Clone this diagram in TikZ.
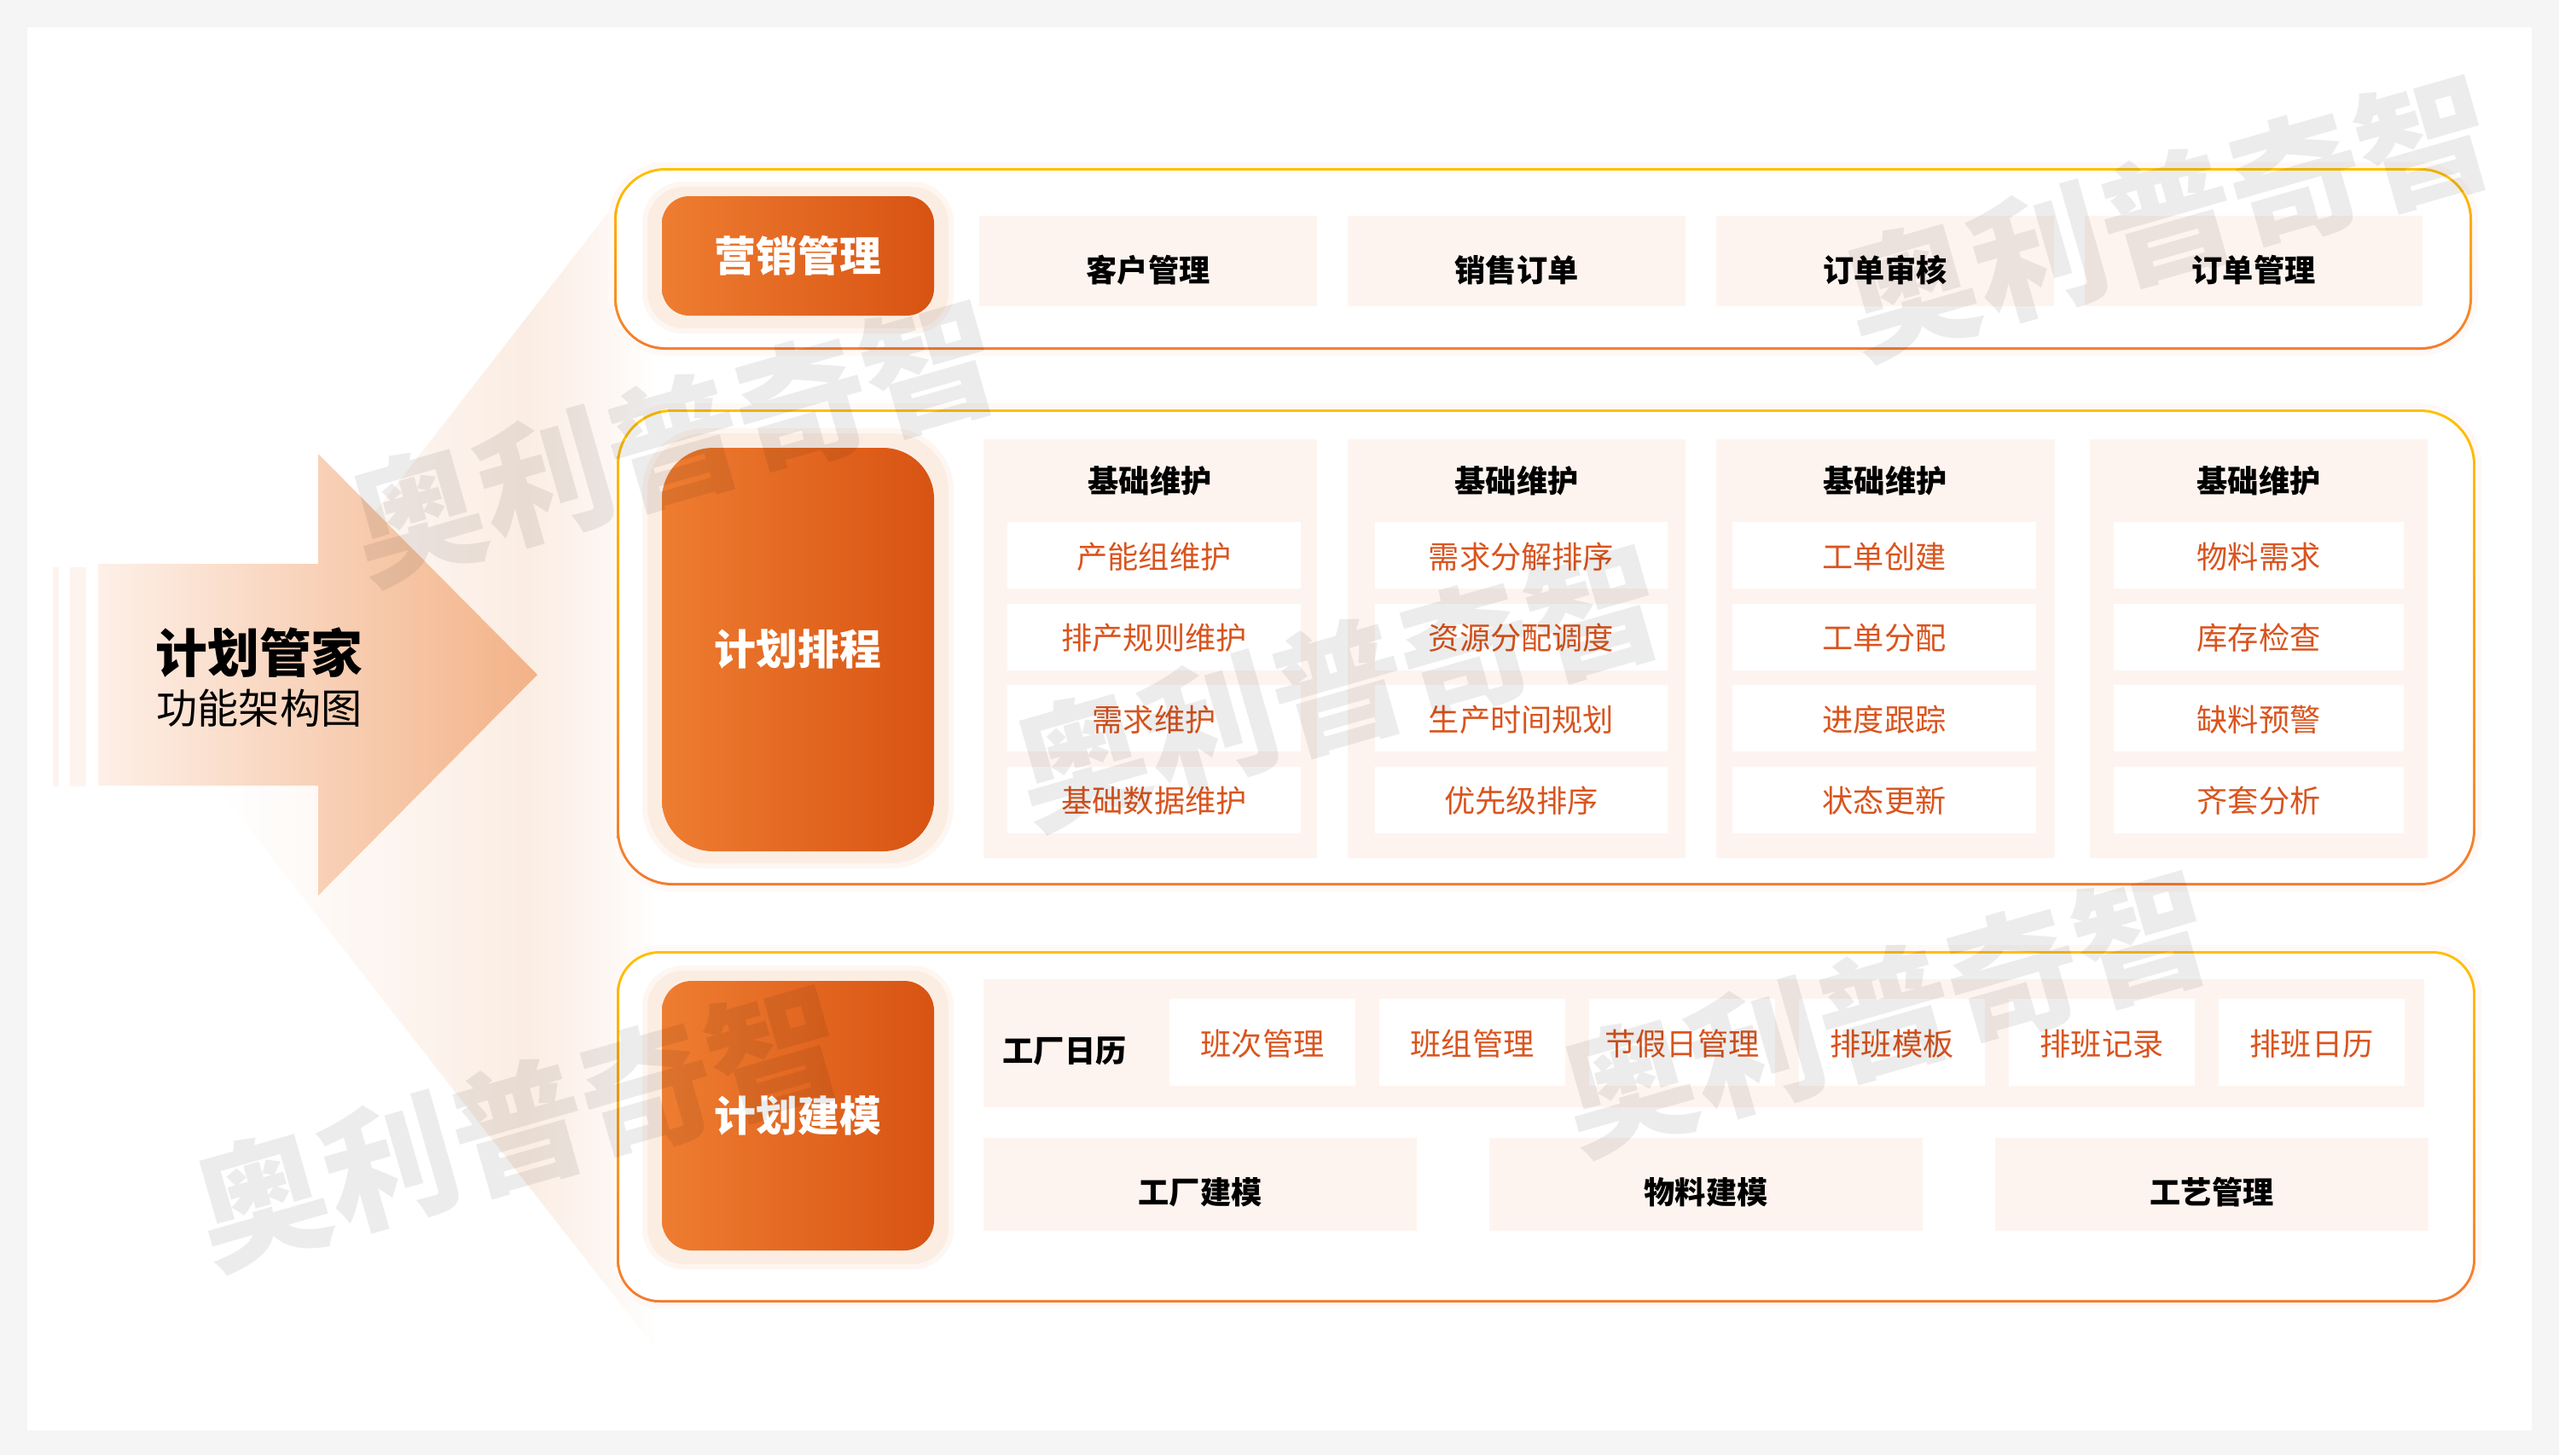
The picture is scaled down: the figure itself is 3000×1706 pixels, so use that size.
\documentclass[tikz,border=0pt]{standalone}
\usepackage{fontspec}
\setmainfont{Noto Sans CJK SC}
\usetikzlibrary{positioning}
\usetikzlibrary{shadings}

\definecolor{pagegray}{HTML}{F5F5F5}
\definecolor{cellpink}{HTML}{FEF4EF}
\definecolor{txtorange}{HTML}{D9541E}
\definecolor{fanpeach}{HTML}{FBEDE3}
\definecolor{fanlight}{HTML}{FDF5F0}
\definecolor{fanpale}{HTML}{FEFAF7}
\definecolor{glowpale}{HTML}{FEF9F6}
\definecolor{halolight}{HTML}{FCEDE3}
\definecolor{halopale}{HTML}{FEF6F1}
\definecolor{btnleft}{HTML}{EE7D31}
\definecolor{btnright}{HTML}{D85312}
\definecolor{rimtop}{HTML}{FFC000}
\definecolor{rimbottom}{HTML}{F47B30}
\definecolor{arrowleft}{HTML}{FDF0E8}
\definecolor{arrowright}{HTML}{F3B287}
\pgfdeclarehorizontalshading{fanfade}{100bp}{color(0bp)=(white); color(25bp)=(white); color(35bp)=(fanpale); color(45bp)=(fanlight); color(60bp)=(fanpeach); color(68bp)=(fanlight); color(75bp)=(white); color(100bp)=(white)}

\begin{document}
\begin{tikzpicture}[x=.1mm,y=-.1mm,
    every node/.style={outer sep=0pt, inner sep=0pt},
    rim/.style={top color=rimtop, bottom color=rimbottom, anchor=north west, preaction={draw=glowpale, line width=1.4mm}},
    panel/.style={fill=white, anchor=north west},
    halo/.style={fill=halolight, draw=halopale, line width=.6mm, anchor=north west},
    btn/.style={left color=btnleft, right color=btnright, anchor=north west, text=white, font=\fontsize{13.9}{16}\selectfont\bfseries, minimum width=31.9mm},
    cell/.style={fill=cellpink, anchor=north west, font=\fontsize{10.3}{12}\selectfont\bfseries, text height=4.9mm, text depth=0mm},
    col/.style={fill=cellpink, anchor=north west, minimum height=49.1mm},
    sub/.style={fill=white, text=txtorange, anchor=north west, font=\fontsize{10.3}{12}\selectfont, minimum height=7.8mm, text height=3mm, text depth=0mm},
    hd/.style={font=\fontsize{10.3}{12}\selectfont\bfseries, text height=3mm, text depth=0mm},
    wm/.style={font=\fontsize{44.5}{50}\selectfont\bfseries, text=black, text opacity=.075, rotate=16}]

    % page
    \fill[pagegray] (0,0) rectangle (3000,1706);
    \fill[white] (32,32) rectangle (2968,1677);

    % fan behind the arrow
    \shade[shading=fanfade] (440,600) -- (770,176) -- (770,1583) -- (253,921) -- cycle;

    % big arrow
    \fill[cellpink] (62,665) rectangle (69,922);
    \fill[cellpink] (82,665) rectangle (101,922);
    \shade[left color=arrowleft, right color=arrowright] (115,661) -- (373,661) -- (373,532) -- (630,791) -- (373,1050) -- (373,921) -- (115,921) -- cycle;
    \node[font=\fontsize{17.3}{20}\selectfont\bfseries] (title) at (304,765) {计划管家};
    \node[font=\fontsize{13.7}{16}\selectfont] (subtitle) at (304,830) {功能架构图};

    % top panel
    \node[rim, rounded corners=6mm, minimum width=217.8mm, minimum height=21.3mm] (saleRim) at (720,197) {};
    \node[panel, rounded corners=5.7mm, minimum width=217.2mm, minimum height=20.7mm] (salePanel) at (723,200) {};
    \node[halo, rounded corners=4.5mm, minimum width=35.9mm, minimum height=17.2mm] (saleHalo) at (756,216) {};
    \node[btn, rounded corners=3.2mm, minimum height=14mm] (saleBtn) at (776,230) {营销管理};
    \node[cell, minimum width=39.6mm, minimum height=10.6mm] (cust) at (1148,253) {客户管理};
    \node[cell, minimum width=39.6mm, minimum height=10.6mm] (order) [right=3.6mm of cust] {销售订单};
    \node[cell, minimum width=39.6mm, minimum height=10.6mm] (audit) [right=3.6mm of order] {订单审核};
    \node[cell, minimum width=39.6mm, minimum height=10.6mm] (ordman) [right=3.6mm of audit] {订单管理};

    % middle panel
    \node[rim, rounded corners=6.5mm, minimum width=217.9mm, minimum height=55.8mm] (planRim) at (723,480) {};
    \node[panel, rounded corners=6.2mm, minimum width=217.3mm, minimum height=55.2mm] (planPanel) at (726,483) {};
    \node[halo, rounded corners=7mm, minimum width=35.9mm, minimum height=51mm] (planHalo) at (756,505) {};
    \node[btn, rounded corners=6mm, minimum height=47.3mm] (planBtn) at (776,525) {计划排程};

    \node[col, minimum width=39.1mm] (colA) at (1153,515) {};
    \node[col, minimum width=39.6mm] (colB) at (1580,515) {};
    \node[col, minimum width=39.7mm] (colC) at (2012,515) {};
    \node[col, minimum width=39.6mm] (colD) at (2450,515) {};

    \node[hd] (hdA) at (1348,562) {基础维护};
    \node[sub, minimum width=34.4mm] (a1) at (1181,612) {产能组维护};
    \node[sub, minimum width=34.4mm] (a2) [below=1.75mm of a1] {排产规则维护};
    \node[sub, minimum width=34.4mm] (a3) [below=1.75mm of a2] {需求维护};
    \node[sub, minimum width=34.4mm] (a4) [below=1.75mm of a3] {基础数据维护};

    \node[hd] (hdB) at (1778,562) {基础维护};
    \node[sub, minimum width=34.3mm] (b1) at (1612,612) {需求分解排序};
    \node[sub, minimum width=34.3mm] (b2) [below=1.75mm of b1] {资源分配调度};
    \node[sub, minimum width=34.3mm] (b3) [below=1.75mm of b2] {生产时间规划};
    \node[sub, minimum width=34.3mm] (b4) [below=1.75mm of b3] {优先级排序};

    \node[hd] (hdC) at (2210,562) {基础维护};
    \node[sub, minimum width=35.6mm] (c1) at (2031,612) {工单创建};
    \node[sub, minimum width=35.6mm] (c2) [below=1.75mm of c1] {工单分配};
    \node[sub, minimum width=35.6mm] (c3) [below=1.75mm of c2] {进度跟踪};
    \node[sub, minimum width=35.6mm] (c4) [below=1.75mm of c3] {状态更新};

    \node[hd] (hdD) at (2648,562) {基础维护};
    \node[sub, minimum width=34mm] (d1) at (2478,612) {物料需求};
    \node[sub, minimum width=34mm] (d2) [below=1.75mm of d1] {库存检查};
    \node[sub, minimum width=34mm] (d3) [below=1.75mm of d2] {缺料预警};
    \node[sub, minimum width=34mm] (d4) [below=1.75mm of d3] {齐套分析};

    % bottom panel
    \node[rim, rounded corners=5mm, minimum width=217.9mm, minimum height=41.2mm] (modelRim) at (723,1115) {};
    \node[panel, rounded corners=4.7mm, minimum width=217.3mm, minimum height=40.6mm] (modelPanel) at (726,1118) {};
    \node[halo, rounded corners=4.5mm, minimum width=35.9mm, minimum height=35mm] (modelHalo) at (756,1135) {};
    \node[btn, rounded corners=3.5mm, minimum height=31.6mm] (modelBtn) at (776,1150) {计划建模};

    \node[fill=cellpink, anchor=north west, minimum width=168.9mm, minimum height=15mm] (calBand) at (1153,1148) {};
    \node[hd] (calHd) at (1248,1230) {工厂日历};
    \node[sub, minimum width=21.8mm, minimum height=10.2mm] (cal1) at (1371,1171) {班次管理};
    \node[sub, minimum width=21.8mm, minimum height=10.2mm] (cal2) [right=2.8mm of cal1] {班组管理};
    \node[sub, minimum width=21.8mm, minimum height=10.2mm] (cal3) [right=2.8mm of cal2] {节假日管理};
    \node[sub, minimum width=21.8mm, minimum height=10.2mm] (cal4) [right=2.8mm of cal3] {排班模板};
    \node[sub, minimum width=21.8mm, minimum height=10.2mm] (cal5) [right=2.8mm of cal4] {排班记录};
    \node[sub, minimum width=21.8mm, minimum height=10.2mm] (cal6) [right=2.8mm of cal5] {排班日历};

    \node[cell, minimum width=50.8mm, minimum height=10.9mm, text height=4.6mm] (factory) at (1153,1334) {工厂建模};
    \node[cell, minimum width=50.8mm, minimum height=10.9mm, text height=4.6mm] (material) [right=8.5mm of factory] {物料建模};
    \node[cell, minimum width=50.8mm, minimum height=10.9mm, text height=4.6mm] (process) [right=8.5mm of material] {工艺管理};

    % watermarks on top
    \node[wm] (wmA) at (2541,253) {奥利普奇智};
    \node[wm] (wmB) at (790,517) {奥利普奇智};
    \node[wm] (wmC) at (1569,804) {奥利普奇智};
    \node[wm] (wmD) at (608,1320) {奥利普奇智};
    \node[wm] (wmE) at (2210,1186) {奥利普奇智};
\end{tikzpicture}
\end{document}
